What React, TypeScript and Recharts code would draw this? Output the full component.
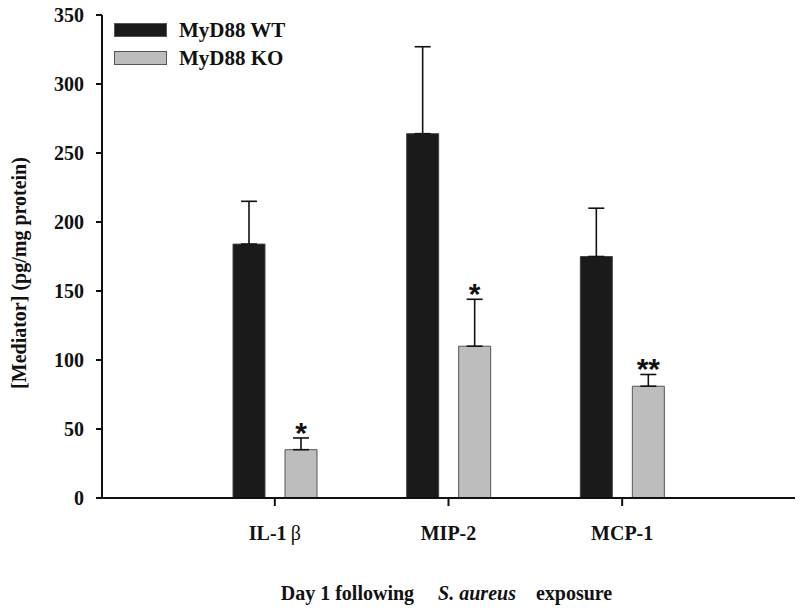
import React from "react";
import { Bar, BarChart, ErrorBar, LabelList, Legend, XAxis, YAxis } from "recharts";

const categories = ["IL-1 β", "MIP-2", "MCP-1"];
const seriesNames = ["MyD88 WT", "MyD88 KO"];
const wtMeans = [184, 264, 175];
const wtSem = [31, 63, 35];
const koMeans = [35, 110, 81];
const koSem = [8.5, 34, 8.5];
const koMarks = ["*", "*", "**"];
const yTicks = [0, 50, 100, 150, 200, 250, 300, 350];

const SERIF = "'Liberation Serif', 'Times New Roman', serif";

const data = categories.map((name, i) => ({
  name,
  wt: wtMeans[i],
  wtErr: [0, wtSem[i]],
  ko: koMeans[i],
  koErr: [0, koSem[i]],
}));

function CategoryTick({ x, y, payload }: any) {
  const label: string = payload.value;
  const m = label.match(/^(.*?)\s*([α-ωΑ-Ω])$/);
  return (
    <text x={x} y={y + 32} textAnchor="middle" fontFamily={SERIF} fontSize={20} fill="#111">
      {m ? (
        <>
          <tspan fontWeight="bold">{m[1]}</tspan>
          <tspan dx={4} fontWeight="normal">{m[2]}</tspan>
        </>
      ) : (
        <tspan fontWeight="bold">{label}</tspan>
      )}
    </text>
  );
}

// asterisks sit just above the KO error cap
function Stars(props: any) {
  const { x, y, width, height, value, index } = props;
  const top = y - (koSem[index] * height) / value;
  return (
    <text
      x={x + width / 2}
      y={top + 5}
      textAnchor="middle"
      fontFamily="'Liberation Sans', Arial, sans-serif"
      fontWeight="bold"
      fontSize={30}
      fill="#111"
    >
      {koMarks[index]}
    </text>
  );
}

function LegendBox({ payload }: any) {
  const items = [...(payload ?? [])].sort(
    (a: any, b: any) => seriesNames.indexOf(a.value) - seriesNames.indexOf(b.value)
  );
  return (
    <div style={{ fontFamily: SERIF, fontWeight: "bold", fontSize: 21, color: "#111" }}>
      {items.map((p: any) => (
        <div key={p.value} style={{ display: "flex", alignItems: "center", height: 28 }}>
          <span
            style={{
              display: "inline-block",
              width: 53,
              height: 14,
              background: p.color,
              border: "1px solid #555",
              boxSizing: "border-box",
            }}
          />
          <span style={{ marginLeft: 12 }}>{p.value}</span>
        </div>
      ))}
    </div>
  );
}

export default function App() {
  return (
    <div style={{ position: "absolute", left: 0, top: 0, width: 800, height: 611, background: "#fff" }}>
      <BarChart
        width={800}
        height={611}
        data={data}
        margin={{ top: 15, right: 5, left: 0, bottom: 0 }}
        barGap={20}
        barSize={32}
      >
        <XAxis
          dataKey="name"
          height={113}
          padding={{ left: 86, right: 86 }}
          stroke="#111"
          strokeWidth={2}
          tickSize={8}
          tick={<CategoryTick />}
          label={{
            content: ({ viewBox }: any) => (
              <text
                x={viewBox.x + viewBox.width / 2 - 2}
                y={600}
                textAnchor="middle"
                fontFamily={SERIF}
                fontWeight="bold"
                fontSize={20}
                fill="#111"
              >
                <tspan>Day 1 following</tspan>
                <tspan dx={24} fontStyle="italic">S. aureus</tspan>
                <tspan dx={20}>exposure</tspan>
              </text>
            ),
          }}
        />
        <YAxis
          width={102}
          domain={[0, 350]}
          ticks={yTicks}
          interval={0}
          stroke="#111"
          strokeWidth={2}
          tickSize={6}
          tickMargin={12}
          tick={{ fontFamily: SERIF, fontWeight: "bold", fontSize: 20, fill: "#111" }}
          label={{
            content: () => (
              <text
                transform="translate(19, 273) rotate(-90)"
                textAnchor="middle"
                dominantBaseline="central"
                fontFamily={SERIF}
                fontWeight="bold"
                fontSize={20}
                fill="#111"
              >
                [Mediator] (pg/mg protein)
              </text>
            ),
          }}
        />
        <Legend
          layout="horizontal"
          verticalAlign="middle"
          align="center"
          content={<LegendBox />}
          wrapperStyle={{ top: 16, left: 114, width: 200 }}
        />
        <Bar dataKey="wt" name="MyD88 WT" fill="#1a1a1a" stroke="#444" strokeWidth={1} isAnimationActive={false}>
          <ErrorBar dataKey="wtErr" direction="y" width={8} stroke="#111" strokeWidth={1.6} />
        </Bar>
        <Bar dataKey="ko" name="MyD88 KO" fill="#bdbdbd" stroke="#555" strokeWidth={1} isAnimationActive={false}>
          <ErrorBar dataKey="koErr" direction="y" width={8} stroke="#111" strokeWidth={1.6} />
          <LabelList dataKey="ko" content={<Stars />} />
        </Bar>
      </BarChart>
    </div>
  );
}
